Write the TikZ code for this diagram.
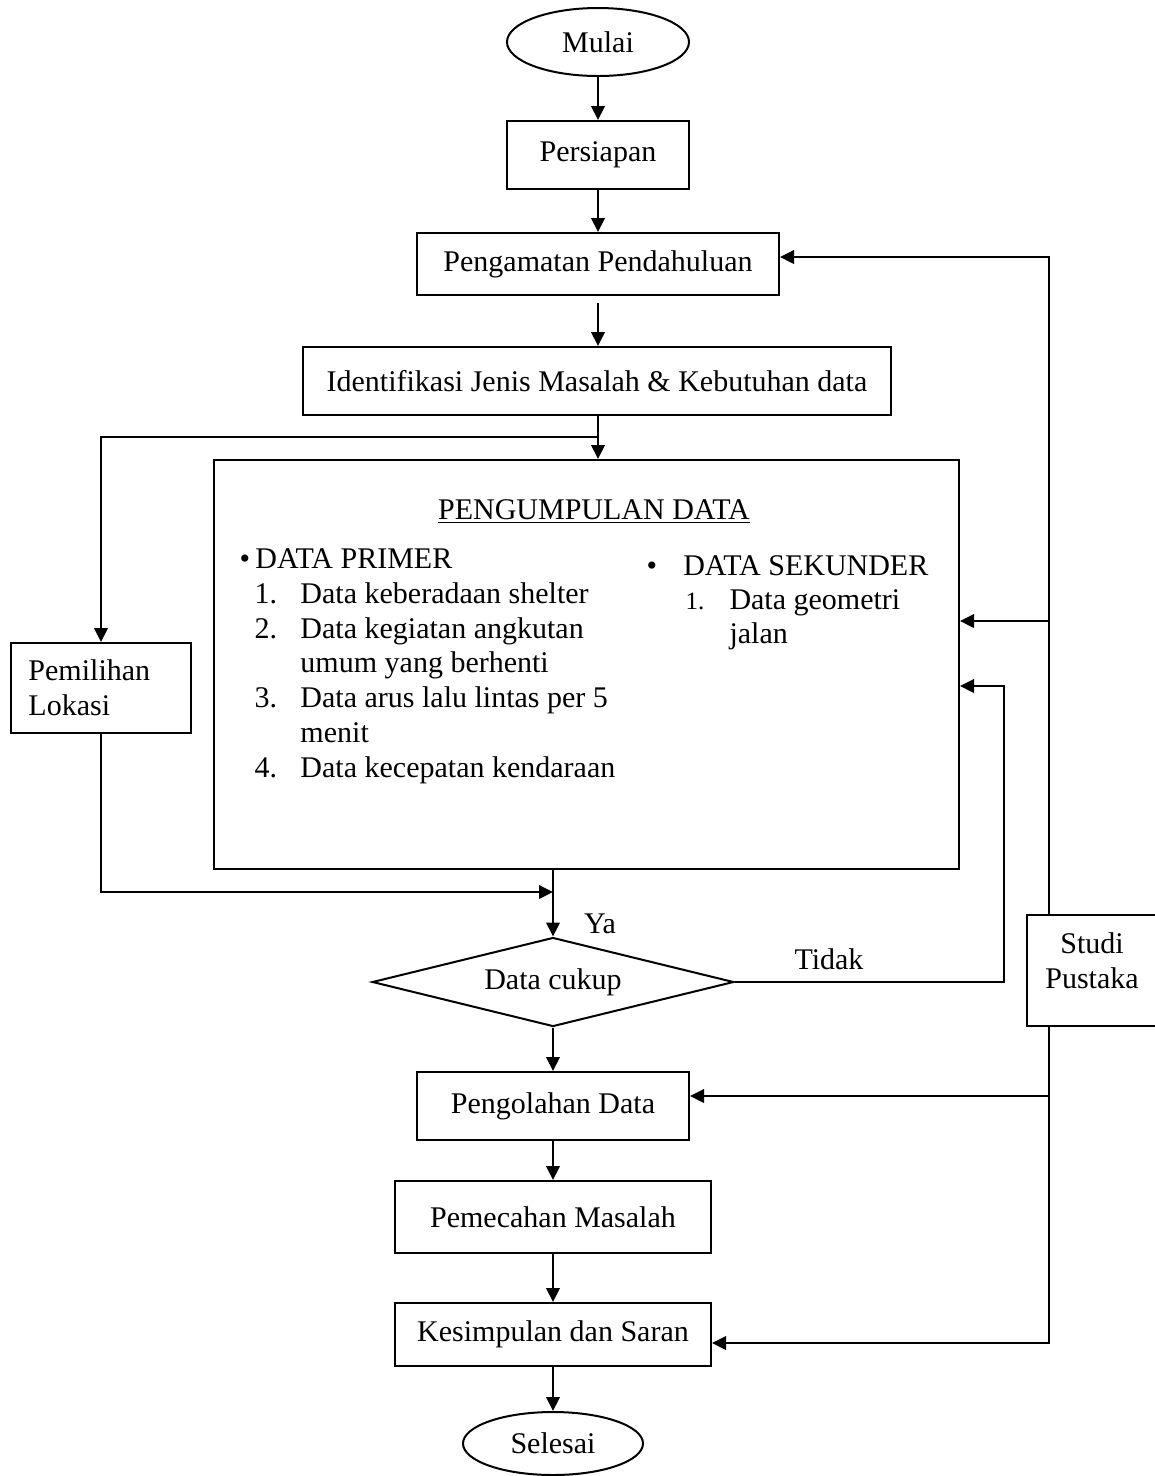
\documentclass[tikz,border=0pt]{standalone}
\usepackage{fontspec}
\setmainfont{Liberation Serif}
\usetikzlibrary{arrows.meta,shapes.geometric}

\tikzset{
  teks/.style={font=\fontsize{12}{13.9}\selectfont},
  kotak/.style={draw, line width=0.8pt, inner sep=0pt, teks},
  oval/.style={draw, ellipse, line width=0.8pt, inner sep=0pt, teks},
  arr/.style={line width=0.8pt, -{Triangle[length=5.6pt,width=5.4pt]}},
  garis/.style={line width=0.8pt}
}

\begin{document}
\begin{tikzpicture}[x=0.4pt, y=-0.4pt]
\useasboundingbox (0,0) rectangle (1155,1476);

% Main column
\node[oval, minimum width=72.8pt, minimum height=27.2pt] (mulai) at (598,42) {Mulai};
\node[kotak, minimum width=72.8pt, minimum height=27.2pt] (persiapan) at (598,155) {Persiapan};
\node[kotak, minimum width=144.8pt, minimum height=24.8pt] (pengamatan) at (598,264) {Pengamatan Pendahuluan};
\node[kotak, minimum width=235.2pt, minimum height=27.2pt] (identifikasi) at (597,381) {Identifikasi Jenis Masalah \& Kebutuhan data};

% Data collection box
\node[kotak, minimum width=298pt, minimum height=163.6pt] (pengumpulan) at (586.5,664.5) {};
\node[teks, anchor=base] (judul) at (594,519) {\underline{PENGUMPULAN DATA}};
\node[teks, anchor=base west, inner sep=0pt] (primer) at (239,568) {\textbullet\hspace{2.2pt}DATA PRIMER};
\foreach \n/\y/\t in {1./603/Data keberadaan shelter,
                      2./638/Data kegiatan angkutan,
                      /672/umum yang berhenti,
                      3./707/Data arus lalu lintas per 5,
                      /742/menit,
                      4./777/Data kecepatan kendaraan}
  \node[teks, anchor=base west, inner sep=0pt] at (254,\y) {\makebox[18.4pt][l]{\n}\t};
\node[teks, anchor=base west, inner sep=0pt] (sekunder) at (646,575) {\textbullet\hspace{10.5pt}DATA SEKUNDER};
\node[anchor=base west, inner sep=0pt, font=\fontsize{10}{12}\selectfont] (nomor) at (685,609) {1.};
\node[teks, anchor=base west, inner sep=0pt] (geometri) at (729,609) {Data geometri};
\node[teks, anchor=base west, inner sep=0pt] (jalan) at (729,643) {jalan};

% Side boxes
\node[kotak, minimum width=72pt, minimum height=36pt, text width=58pt, align=left] (pemilihan) at (101,688) {Pemilihan\\Lokasi};
\node[kotak, minimum width=52pt, minimum height=44.4pt, align=center] (studi) at (1092,970.5) {Studi\\Pustaka\\[-6pt]};

% Decision and the rest
\node[draw, diamond, shape aspect=4, line width=0.8pt, inner sep=0pt, minimum width=144.6pt, minimum height=35.6pt, teks] (cukup) at (553,982) {Data cukup};
\node[teks] (ya) at (600,924) {Ya};
\node[teks] (tidak) at (829,959) {Tidak};
\node[kotak, minimum width=108.8pt, minimum height=27.2pt] (pengolahan) at (553,1106) {Pengolahan Data};
\node[kotak, minimum width=126.4pt, minimum height=28.8pt] (pemecahan) at (553,1217) {Pemecahan Masalah};
\node[kotak, minimum width=126.4pt, minimum height=25.2pt] (kesimpulan) at (553,1334.5) {Kesimpulan dan Saran};
\node[oval, minimum width=72pt, minimum height=25.2pt] (selesai) at (553,1443.5) {Selesai};

% Turning points
\coordinate (cabang) at (598,437);
\coordinate (gabung) at (553,892);
\coordinate (balik) at (1004,686);
\coordinate (atas) at (1049,257);
\coordinate (kiri1) at (1049,621);
\coordinate (kiri2) at (1049,1096);
\coordinate (bawah) at (1049,1343);

% Connectors
\draw[arr] (mulai) -- (persiapan);
\draw[arr] (persiapan) -- (pengamatan);
\draw[arr, shorten <=2.8pt] (pengamatan.south) -- (pengamatan.south |- identifikasi.north);
\draw[arr] (identifikasi.south -| cabang) -- (cabang |- pengumpulan.north);
\draw[arr] (cabang) -| (pemilihan.north);
\draw[arr] (pemilihan.south) |- (gabung);
\draw[arr] (pengumpulan.south -| cukup.north) -- (cukup.north);
\draw[arr] (cukup.east) -| (balik) -- (balik -| pengumpulan.east);
\draw[arr] (cukup.south) -- (pengolahan.north);
\draw[arr] (pengolahan) -- (pemecahan);
\draw[arr] (pemecahan) -- (kesimpulan);
\draw[arr] (kesimpulan) -- (selesai);
\draw[arr] (studi.north -| atas) -- (atas) -- (atas -| pengamatan.east);
\draw[arr] (kiri1) -- (kiri1 -| pengumpulan.east);
\draw[arr] (studi.south -| bawah) -- (bawah) -- (bawah -| kesimpulan.east);
\draw[arr] (kiri2) -- (kiri2 -| pengolahan.east);
\end{tikzpicture}
\end{document}
